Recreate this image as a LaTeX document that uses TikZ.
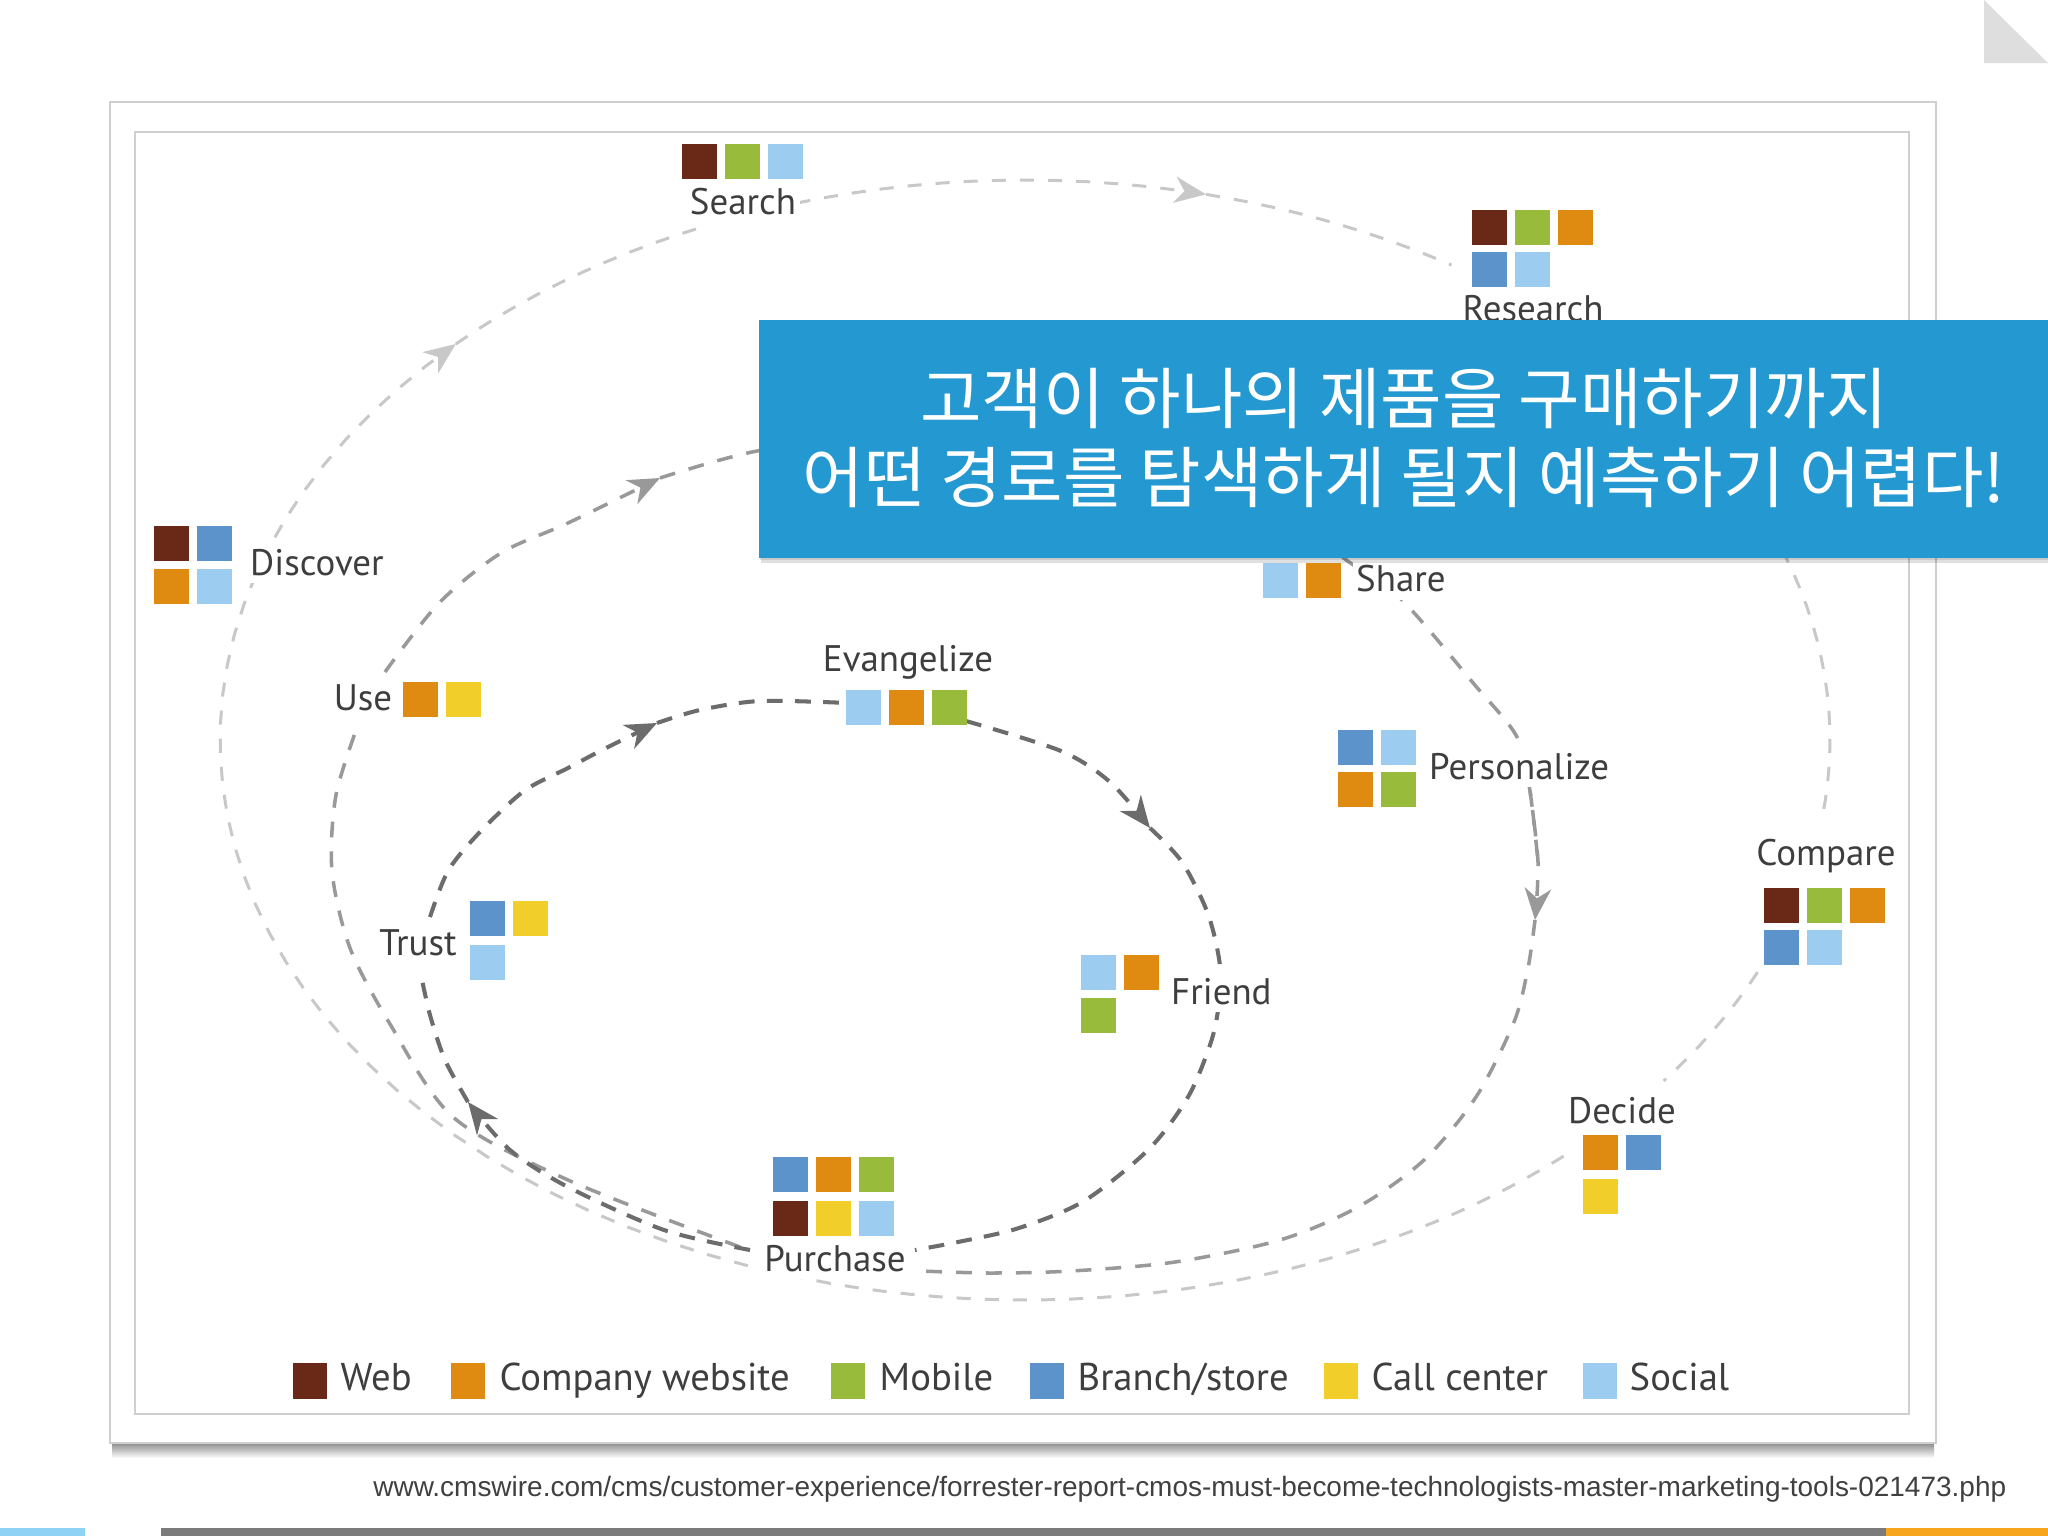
\documentclass[tikz,border=0pt]{standalone}
\usepackage{fontspec}
\usepackage{graphicx}
\setmainfont{PT Sans}
\newfontfamily\krfont{Noto Sans CJK KR}
\newfontfamily\urlfont{Liberation Sans}
\usetikzlibrary{arrows.meta}

\definecolor{cweb}{HTML}{6A2817}
\definecolor{ccomp}{HTML}{DF8A10}
\definecolor{cmob}{HTML}{98BB3C}
\definecolor{cbranch}{HTML}{5B93CA}
\definecolor{ccall}{HTML}{F2CE2A}
\definecolor{csoc}{HTML}{9CCCF0}
\definecolor{ctext}{HTML}{3E3E3E}
\definecolor{clight}{HTML}{C8C8C8}
\definecolor{cmed}{HTML}{999999}
\definecolor{cdark}{HTML}{6C6C6C}
\definecolor{cbox}{HTML}{2498D0}
\definecolor{cframe}{HTML}{CFCFCF}
\definecolor{curl}{HTML}{404040}
\definecolor{cbarblue}{HTML}{8ED3F6}
\definecolor{cbargray}{HTML}{7B7B7B}
\definecolor{cbarorange}{HTML}{F7A51C}
\definecolor{ctri}{HTML}{DEDEDE}

\begin{document}
\begin{tikzpicture}[x=0.01cm, y=-0.01cm,
  sq/.style={minimum width=0.35cm, minimum height=0.35cm, inner sep=0pt, outer sep=0pt, anchor=north west},
  lsq/.style={minimum width=0.34cm, minimum height=0.36cm, inner sep=0pt, outer sep=0pt, anchor=north west},
  lbl/.style={font=\fontsize{10.5}{12}\selectfont, text=ctext, fill=white, inner sep=1pt, text height=1.5ex, text depth=.25ex},
  leg/.style={font=\fontsize{11}{13}\selectfont, text=ctext, inner sep=0pt, anchor=west, text height=1.5ex, text depth=.25ex},
  lightpath/.style={draw=clight, line width=0.85pt, dash pattern=on 4pt off 4pt},
  medpath/.style={draw=cmed, line width=1pt, dash pattern=on 4.5pt off 4pt},
  darkpath/.style={draw=cdark, line width=1.15pt, dash pattern=on 4.5pt off 3.5pt},
  arrowend/.style={-{Stealth[length=9pt,width=7.5pt,inset=2.8pt]}},
]
\useasboundingbox (0,0) rectangle (2048,1536);
\fill[white] (0,0) rectangle (2048,1536);

% page curl triangle
\fill[ctri] (1984,0) -- (2048,63) -- (1984,63) -- cycle;

% slide frames
\shade[top color=black!45, bottom color=white] (112,1443) rectangle (1934,1458);
\draw[cframe, line width=0.6pt, fill=white] (110,102) rectangle (1936,1443);
\draw[cframe, line width=0.6pt] (135,132) rectangle (1909,1414);

% ---------- outer (light) loop : ellipse ----------
\coordinate (l-decide) at ({1025+805*cos(48)},{740+560*sin(48)});
\coordinate (l-purch) at ({1025+805*cos(104)},{740+560*sin(104)});
\coordinate (l-a1) at ({1025+805*cos(225)},{740+560*sin(225)});
\coordinate (l-search-in) at ({1025+805*cos(246.5)},{740+560*sin(246.5)});
\coordinate (l-search-out) at ({1025+805*cos(-106.5)},{740+560*sin(-106.5)});
\coordinate (l-a2) at ({1025+805*cos(-77)},{740+560*sin(-77)});
\coordinate (l-research) at ({1025+805*cos(-58)},{740+560*sin(-58)});
\coordinate (l-compare-in) at ({1025+805*cos(8)},{740+560*sin(8)});
\coordinate (l-compare-out) at ({1025+805*cos(24.5)},{740+560*sin(24.5)});
\coordinate (l-decide-in) at ({1025+805*cos(37.5)},{740+560*sin(37.5)});

\draw[lightpath] plot[domain=48:104, samples=30, variable=\t] ({1025+805*cos(\t)},{740+560*sin(\t)});
\draw[lightpath, arrowend] plot[domain=104:225, samples=40, variable=\t] ({1025+805*cos(\t)},{740+560*sin(\t)});
\draw[lightpath] plot[domain=225:246.5, samples=12, variable=\t] ({1025+805*cos(\t)},{740+560*sin(\t)});
\draw[lightpath, arrowend] plot[domain=-106.5:-77, samples=15, variable=\t] ({1025+805*cos(\t)},{740+560*sin(\t)});
\draw[lightpath] plot[domain=-77:-58, samples=12, variable=\t] ({1025+805*cos(\t)},{740+560*sin(\t)});
\draw[lightpath] plot[domain=-45:8, samples=30, variable=\t] ({1025+805*cos(\t)},{740+560*sin(\t)});
\draw[lightpath] plot[domain=24.5:37.5, samples=10, variable=\t] ({1025+805*cos(\t)},{740+560*sin(\t)});

% ---------- middle loop ----------
\coordinate (m-use-t) at (385,672);
\coordinate (m-a1) at (660,478);
\coordinate (m-share) at (1345,559);
\coordinate (m-a2) at (1535,920);
\coordinate (m-pur-r) at (921,1271);
\coordinate (m-pur-l) at (740,1247);
\coordinate (m-use-b) at (359,722);

\draw[medpath, arrowend] plot[smooth] coordinates {(m-use-t) (439,603) (501,553) (568,523) (m-a1)};
\draw[medpath] plot[smooth] coordinates {(m-a1) (757,451) (900,432) (1050,432) (1200,470) (1300,520) (m-share) (1401,599) (1474,684) (1517,737) (1530,791) (1538,862)};
\draw[medpath, arrowend] plot[smooth] coordinates {(1530,791) (1538,862) (m-a2)};
\draw[medpath] plot[smooth] coordinates {(m-a2) (1528,968) (1514,1022) (1476,1097) (1424,1160) (1358,1207) (1280,1240) (1175,1262) (1071,1271) (990,1273) (m-pur-r)};
\draw[medpath] plot[smooth] coordinates {(m-pur-l) (568,1180) (453,1117) (390,1024) (350,948) (332,871) (336,795) (m-use-b)};

% ---------- inner (dark) loop ----------
\coordinate (d-trust-t) at (430,917);
\coordinate (d-a1) at (657,723);
\coordinate (d-evang-l) at (848,703);
\coordinate (d-evang-r) at (966,721);
\coordinate (d-a2) at (1150,828);
\coordinate (d-pur-r) at (915,1250);
\coordinate (d-pur-l) at (750,1250);
\coordinate (d-a3) at (468,1102);
\coordinate (d-trust-b) at (421,975);

\draw[darkpath, arrowend] plot[smooth] coordinates {(d-trust-t) (448,871) (479,833) (524,791) (568,768) (604,749) (d-a1)};
\draw[darkpath] plot[smooth] coordinates {(d-a1) (700,710) (760,701) (d-evang-l)};
\draw[darkpath, arrowend] plot[smooth] coordinates {(d-evang-r) (1061,751) (1110,782) (d-a2)};
\draw[darkpath] plot[smooth] coordinates {(d-a2) (1182,862) (1208,914) (1220,966) (1218,1010) (1210,1045) (1188,1097) (1149,1149) (1084,1201) (1019,1228) (958,1242) (d-pur-r)};
\draw[darkpath, arrowend] plot[smooth] coordinates {(d-pur-l) (664,1230) (568,1187) (510,1150) (d-a3)};
\draw[darkpath] plot[smooth] coordinates {(d-a3) (445,1060) (430,1015) (d-trust-b)};

% ---------- squares ----------
\foreach \c [count=\i] in {cweb,cmob,csoc}
  \node[sq, fill=\c] (srch\i) at ({682+43*(\i-1)},144) {};
\foreach \c [count=\i] in {cweb,cmob,ccomp}
  \node[sq, fill=\c] (res\i) at ({1472+43*(\i-1)},210) {};
\foreach \c [count=\i] in {cbranch,csoc}
  \node[sq, fill=\c] (resb\i) at ({1472+43*(\i-1)},252) {};
\node[sq, fill=cweb] (disc1) at (154,526) {};
\node[sq, fill=cbranch] (disc2) at (197,526) {};
\node[sq, fill=ccomp] (disc3) at (154,569) {};
\node[sq, fill=csoc] (disc4) at (197,569) {};
\node[sq, fill=ccomp] (use1) at (403,682) {};
\node[sq, fill=ccall] (use2) at (446,682) {};
\node[sq, fill=cbranch] (tru1) at (470,901) {};
\node[sq, fill=ccall] (tru2) at (513,901) {};
\node[sq, fill=csoc] (tru3) at (470,945) {};
\foreach \c [count=\i] in {csoc,ccomp,cmob}
  \node[sq, fill=\c] (ev\i) at ({846+43*(\i-1)},690) {};
\node[sq, fill=csoc] (sha1) at (1263,563) {};
\node[sq, fill=ccomp] (sha2) at (1306,563) {};
\node[sq, fill=cbranch] (per1) at (1338,730) {};
\node[sq, fill=csoc] (per2) at (1381,730) {};
\node[sq, fill=ccomp] (per3) at (1338,772) {};
\node[sq, fill=cmob] (per4) at (1381,772) {};
\node[sq, fill=csoc] (fr1) at (1081,955) {};
\node[sq, fill=ccomp] (fr2) at (1124,955) {};
\node[sq, fill=cmob] (fr3) at (1081,998) {};
\foreach \c [count=\i] in {cweb,cmob,ccomp}
  \node[sq, fill=\c] (cmp\i) at ({1764+43*(\i-1)},888) {};
\foreach \c [count=\i] in {cbranch,csoc}
  \node[sq, fill=\c] (cmpb\i) at ({1764+43*(\i-1)},930) {};
\node[sq, fill=ccomp] (dec1) at (1583,1135) {};
\node[sq, fill=cbranch] (dec2) at (1626,1135) {};
\node[sq, fill=ccall] (dec3) at (1583,1179) {};
\foreach \c [count=\i] in {cbranch,ccomp,cmob}
  \node[sq, fill=\c] (pur\i) at ({773+43*(\i-1)},1157) {};
\foreach \c [count=\i] in {cweb,ccall,csoc}
  \node[sq, fill=\c] (purb\i) at ({773+43*(\i-1)},1201) {};

% ---------- labels ----------
\node[lbl] (search) at (743,204) {Search};
\node[lbl] (research) at (1533,311) {Research};
\node[lbl, anchor=west] (discover) at (246,564) {Discover};
\node[lbl] (use) at (363,699) {Use};
\node[lbl] (trust) at (418,944) {Trust};
\node[lbl] (evang) at (908,660) {Evangelize};
\node[lbl, anchor=west] (share) at (1352,581) {Share};
\node[lbl, anchor=west] (personal) at (1425,768) {Personalize};
\node[lbl, anchor=west] (friend) at (1167,993) {Friend};
\node[lbl] (compare) at (1826,854) {Compare};
\node[lbl] (decide) at (1622,1112) {Decide};
\node[lbl] (purchase) at (835,1260) {Purchase};

% ---------- legend ----------
\node[lsq, fill=cweb] (lg1) at (293,1363) {};
\node[leg] (lgt1) at (340,1379) {Web};
\node[lsq, fill=ccomp] (lg2) at (451,1363) {};
\node[leg] (lgt2) at (499,1379) {Company website};
\node[lsq, fill=cmob] (lg3) at (831,1363) {};
\node[leg] (lgt3) at (879,1379) {Mobile};
\node[lsq, fill=cbranch] (lg4) at (1030,1363) {};
\node[leg] (lgt4) at (1077,1379) {Branch/store};
\node[lsq, fill=ccall] (lg5) at (1324,1363) {};
\node[leg] (lgt5) at (1371,1379) {Call center};
\node[lsq, fill=csoc] (lg6) at (1583,1363) {};
\node[leg] (lgt6) at (1629,1379) {Social};

% ---------- blue message box ----------
\fill[black, opacity=0.12] (761,322) rectangle (2048,563);
\fill[black, opacity=0.10] (760,320) rectangle (2048,560);
\node[fill=cbox, minimum width=12.9cm, minimum height=2.38cm, inner sep=0pt, anchor=north west] (box) at (758,319) {};
\node[font=\krfont\fontsize{19}{22.2}\selectfont, text=white, align=center, inner sep=0pt] (msg) at (1404,438)
  {고객이 하나의 제품을 구매하기까지\\어떤 경로를 탐색하게 될지 예측하기 어렵다!};

% ---------- source URL ----------
\node[anchor=east, text=curl, inner sep=0pt] (url) at (2007,1489)
  {\resizebox{16.32cm}{!}{\urlfont\fontsize{8}{10}\selectfont www.cmswire.com/cms/customer-experience/forrester-report-cmos-must-become-technologists-master-marketing-tools-021473.php}};

% ---------- bottom bar ----------
\fill[cbarblue] (0,1528) rectangle (85,1536);
\fill[cbargray] (161,1528) rectangle (1886,1536);
\fill[cbarorange] (1886,1528) rectangle (2048,1536);
\end{tikzpicture}
\end{document}
